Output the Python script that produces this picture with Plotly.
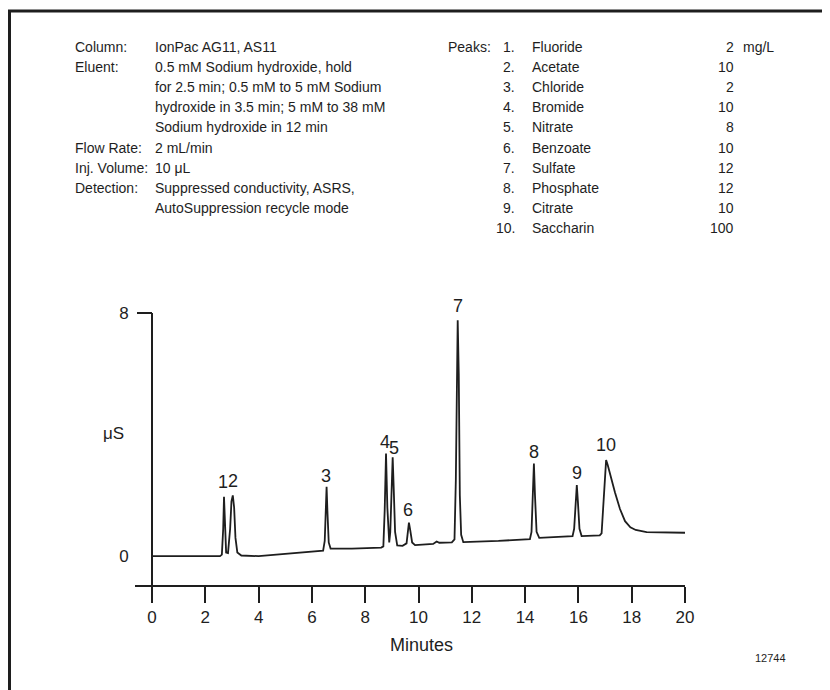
import plotly.graph_objects as go

# ---------------- data ----------------
trace_min = [0.0, 2.55, 2.62, 2.67, 2.70, 2.73, 2.78, 2.85, 2.93, 2.98, 3.03, 3.08, 3.13, 3.20, 3.35,
             4.0, 5.0, 6.0, 6.42, 6.48, 6.52, 6.55, 6.58, 6.63, 6.70, 7.5, 8.6, 8.68, 8.73, 8.78,
             8.83, 8.90, 8.94, 8.99, 9.03, 9.07, 9.12, 9.20, 9.40, 9.55, 9.60, 9.64, 9.69, 9.76,
             9.87, 10.3, 10.55, 10.68, 10.78, 11.25, 11.35, 11.40, 11.44, 11.47, 11.51, 11.55,
             11.60, 11.68, 13.0, 14.18, 14.24, 14.29, 14.33, 14.37, 14.43, 14.53, 15.0, 15.78,
             15.84, 15.90, 15.94, 15.98, 16.04, 16.12, 16.80, 16.87, 16.93, 16.99, 17.04, 17.10,
             17.20, 17.37, 17.56, 17.75, 17.95, 18.15, 18.56, 19.3, 20.0]
trace_us = [0.0, 0.0, 0.05, 0.9, 1.95, 0.9, 0.12, 0.1, 0.9, 1.8, 2.0, 1.6, 0.6, 0.12, 0.02,
            0.0, 0.08, 0.15, 0.18, 0.5, 1.6, 2.28, 1.5, 0.45, 0.25, 0.25, 0.28, 0.32, 1.5, 3.38,
            1.6, 0.45, 0.8, 2.6, 3.25, 2.2, 0.8, 0.35, 0.34, 0.42, 0.9, 1.10, 0.85, 0.45,
            0.36, 0.38, 0.40, 0.48, 0.44, 0.45, 0.55, 2.5, 6.5, 7.76, 6.0, 2.0,
            0.7, 0.46, 0.50, 0.56, 0.8, 2.2, 3.05, 2.0, 0.8, 0.6, 0.62, 0.66,
            0.9, 2.0, 2.34, 1.8, 0.9, 0.66, 0.68, 0.75, 1.6, 2.8, 3.16, 3.0,
            2.65, 2.1, 1.55, 1.15, 0.95, 0.86, 0.79, 0.78, 0.77]

peak_labels = ["1", "2", "3", "4", "5", "6", "7", "8", "9", "10"]
peak_label_x = [2.66, 3.04, 6.52, 8.74, 9.08, 9.62, 11.47, 14.33, 15.94, 17.04]
peak_label_y = [2.45, 2.47, 2.63, 3.77, 3.56, 1.51, 8.22, 3.43, 2.74, 3.65]

x_ticks = [0, 2, 4, 6, 8, 10, 12, 14, 16, 18, 20]
y_label_ticks = [0, 8]
y_mark_ticks = [8]

cond_labels = ["Column:", "Eluent:", "", "", "", "Flow Rate:", "Inj. Volume:", "Detection:", ""]
cond_values = ["IonPac AG11, AS11",
               "0.5 mM Sodium hydroxide, hold",
               "for 2.5 min; 0.5 mM to 5 mM Sodium",
               "hydroxide in 3.5 min; 5 mM to 38 mM",
               "Sodium hydroxide in 12 min",
               "2 mL/min",
               "10 μL",
               "Suppressed conductivity, ASRS,",
               "AutoSuppression recycle mode"]

peak_nums = ["1.", "2.", "3.", "4.", "5.", "6.", "7.", "8.", "9.", "10."]
peak_names = ["Fluoride", "Acetate", "Chloride", "Bromide", "Nitrate",
              "Benzoate", "Sulfate", "Phosphate", "Citrate", "Saccharin"]
peak_amounts = ["2", "10", "2", "10", "8", "10", "12", "12", "10", "100"]
amount_unit = "mg/L"

# ---------------- layout geometry (screen pixels; page body has an 8px margin) ----------------
BODY = 8
W, H = 830 - BODY, 690 - BODY
PL, PR, PT, PB = 135, 685, 313, 585          # plot area on screen
X_RANGE = [-0.64, 20]
Y_RANGE = [-0.95, 8]
FONT = "Liberation Sans, Arial, Helvetica, sans-serif"
INK = "#1e1e1e"
HDR = 14


def pxx(x):
    return (x - PL) / (PR - PL)


def pxy(y):
    return (PB - y) / (PB - PT)


def yfrac(v):
    return (v - Y_RANGE[0]) / (Y_RANGE[1] - Y_RANGE[0])


fig = go.Figure()
fig.add_trace(go.Scatter(x=trace_min, y=trace_us, mode="lines",
                         line=dict(color=INK, width=1.8), showlegend=False,
                         hoverinfo="skip"))
fig.add_trace(go.Scatter(x=[], y=[], yaxis="y2", showlegend=False, hoverinfo="skip"))

annotations = []
for t, x, y in zip(peak_labels, peak_label_x, peak_label_y):
    annotations.append(dict(x=x, y=yfrac(y), xref="x", yref="paper", text=t, showarrow=False,
                            font=dict(family=FONT, size=18, color=INK),
                            xanchor="center", yanchor="middle"))


def txt(x, y, s, anchor, size=HDR):
    annotations.append(dict(x=pxx(x), y=pxy(y), xref="paper", yref="paper", text=s,
                            showarrow=False, xanchor=anchor, yanchor="middle",
                            font=dict(family=FONT, size=size, color=INK)))


row0, step = 47, 20.1
for i, (lab, val) in enumerate(zip(cond_labels, cond_values)):
    yy = row0 + i * step
    if lab:
        txt(73, yy, lab, "left")
    txt(153, yy, val, "left")

txt(493, row0, "Peaks:", "right")
for i, (n, nm, am) in enumerate(zip(peak_nums, peak_names, peak_amounts)):
    yy = row0 + i * step
    txt(517, yy, n, "right")
    txt(530, yy, nm, "left")
    txt(736, yy, am, "right")
txt(741, row0, amount_unit, "left")

txt(113, 433, "μS", "center", 17)
txt(421, 645, "Minutes", "center", 18)
txt(770, 658, "12744", "center", 11)

shapes = [
    dict(type="line", xref="paper", yref="paper", x0=pxx(8), x1=pxx(830), y0=pxy(11), y1=pxy(11),
         line=dict(color=INK, width=3)),
    dict(type="line", xref="paper", yref="paper", x0=pxx(9.5), x1=pxx(9.5), y0=pxy(10), y1=pxy(690),
         line=dict(color=INK, width=3)),
]

ypos = pxx(152)
fig.update_layout(
    width=W, height=H,
    margin=dict(l=PL - BODY, r=830 - PR, t=PT - BODY, b=690 - PB, autoexpand=False),
    paper_bgcolor="white", plot_bgcolor="white",
    showlegend=False,
    xaxis=dict(range=X_RANGE, tickvals=x_ticks, ticktext=[str(v) for v in x_ticks],
               ticks="outside", ticklen=16, tickwidth=1.6, tickcolor=INK,
               showline=True, linecolor=INK, linewidth=2, showgrid=False, zeroline=False,
               tickfont=dict(family=FONT, size=17, color=INK), automargin=False,
               fixedrange=True),
    yaxis=dict(range=Y_RANGE, anchor="free", position=ypos,
               tickvals=y_label_ticks, ticktext=[str(v) for v in y_label_ticks],
               ticks="outside", ticklen=15, tickcolor="rgba(0,0,0,0)", ticklabelstandoff=4,
               showline=True, linecolor=INK, linewidth=1.8, showgrid=False, zeroline=False,
               tickfont=dict(family=FONT, size=17, color=INK), automargin=False,
               fixedrange=True),
    yaxis2=dict(range=Y_RANGE, anchor="free", position=ypos, overlaying="y",
                tickvals=y_mark_ticks, ticks="outside", ticklen=15, tickwidth=1.6, tickcolor=INK,
                showticklabels=False, showline=False, showgrid=False, zeroline=False,
                automargin=False, fixedrange=True),
    annotations=annotations,
    shapes=shapes,
)

fig.write_html("out.html")
